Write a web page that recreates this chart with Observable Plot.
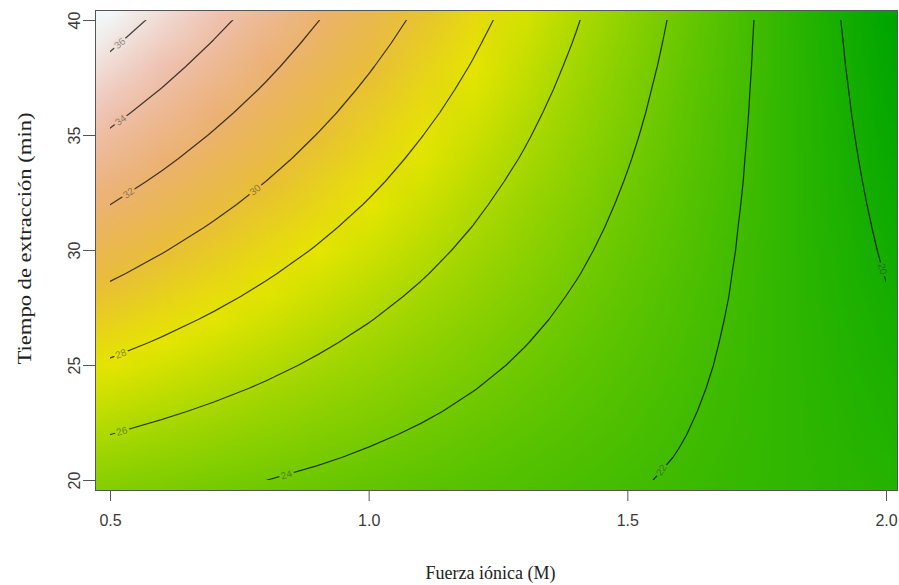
<!DOCTYPE html>
<html>
<head>
<meta charset="utf-8">
<script src="https://cdn.jsdelivr.net/npm/d3@7"></script>
<script src="https://cdn.jsdelivr.net/npm/@observablehq/plot@0.6"></script>
<style>
  body { margin: 0; background: #fff; }
  #chart { position: relative; width: 899px; height: 585px; }
  #chart svg { position: absolute; left: 0; top: 0; }
</style>
</head>
<body>
<div id="chart"></div>
<script>
// Grid columns: ionic strength (M); grid rows: extraction time (min), top row first
const xs = [0.4, 0.5, 0.6, 0.7, 0.8, 0.9, 1.0, 1.1, 1.2, 1.3, 1.4, 1.5, 1.6, 1.7, 1.8, 1.9, 2.0, 2.1];
const ys = [41, 40, 39, 38, 37, 36, 35, 34, 33, 32, 31, 30, 29, 28, 27, 26, 25, 24, 23, 22, 21, 20, 19];

// Response values (one row per time, one value per ionic strength)
const z41 = [38.64, 37.40, 36.16, 34.93, 33.69, 32.46, 31.22, 29.98, 28.75, 27.51, 26.27, 25.04, 23.80, 22.57, 21.33, 20.09, 18.86, 17.62];
const z40 = [37.99, 36.80, 35.61, 34.42, 33.23, 32.04, 30.85, 29.66, 28.47, 27.28, 26.09, 24.90, 23.71, 22.52, 21.33, 20.14, 18.95, 17.76];
const z39 = [37.34, 36.20, 35.06, 33.91, 32.77, 31.62, 30.48, 29.34, 28.19, 27.05, 25.91, 24.76, 23.62, 22.47, 21.33, 20.19, 19.04, 17.90];
const z38 = [36.70, 35.60, 34.50, 33.40, 32.31, 31.21, 30.11, 29.01, 27.92, 26.82, 25.72, 24.62, 23.53, 22.43, 21.33, 20.23, 19.13, 18.04];
const z37 = [36.05, 35.00, 33.95, 32.90, 31.85, 30.79, 29.74, 28.69, 27.64, 26.59, 25.54, 24.48, 23.43, 22.38, 21.33, 20.28, 19.23, 18.18];
const z36 = [35.41, 34.40, 33.39, 32.39, 31.38, 30.38, 29.37, 28.37, 27.36, 26.36, 25.35, 24.35, 23.34, 22.34, 21.33, 20.32, 19.32, 18.31];
const z35 = [34.76, 33.80, 32.84, 31.88, 30.92, 29.96, 29.00, 28.04, 27.09, 26.13, 25.17, 24.21, 23.25, 22.29, 21.33, 20.37, 19.41, 18.45];
const z34 = [34.11, 33.20, 32.29, 31.37, 30.46, 29.55, 28.63, 27.72, 26.81, 25.90, 24.98, 24.07, 23.16, 22.24, 21.33, 20.42, 19.50, 18.59];
const z33 = [33.47, 32.60, 31.73, 30.87, 30.00, 29.13, 28.27, 27.40, 26.53, 25.66, 24.80, 23.93, 23.06, 22.20, 21.33, 20.46, 19.60, 18.73];
const z32 = [32.82, 32.00, 31.18, 30.36, 29.54, 28.72, 27.90, 27.08, 26.25, 25.43, 24.61, 23.79, 22.97, 22.15, 21.33, 20.51, 19.69, 18.87];
const z31 = [32.17, 31.40, 30.63, 29.85, 29.08, 28.30, 27.53, 26.75, 25.98, 25.20, 24.43, 23.65, 22.88, 22.10, 21.33, 20.56, 19.78, 19.01];
const z30 = [31.53, 30.80, 30.07, 29.34, 28.61, 27.89, 27.16, 26.43, 25.70, 24.97, 24.24, 23.52, 22.79, 22.06, 21.33, 20.60, 19.87, 19.14];
const z29 = [30.88, 30.20, 29.52, 28.84, 28.15, 27.47, 26.79, 26.11, 25.42, 24.74, 24.06, 23.38, 22.69, 22.01, 21.33, 20.65, 19.96, 19.28];
const z28 = [30.24, 29.60, 28.96, 28.33, 27.69, 27.06, 26.42, 25.78, 25.15, 24.51, 23.87, 23.24, 22.60, 21.97, 21.33, 20.69, 20.06, 19.42];
const z27 = [29.59, 29.00, 28.41, 27.82, 27.23, 26.64, 26.05, 25.46, 24.87, 24.28, 23.69, 23.10, 22.51, 21.92, 21.33, 20.74, 20.15, 19.56];
const z26 = [28.94, 28.40, 27.86, 27.31, 26.77, 26.22, 25.68, 25.14, 24.59, 24.05, 23.50, 22.96, 22.42, 21.87, 21.33, 20.79, 20.24, 19.70];
const z25 = [28.30, 27.80, 27.30, 26.80, 26.31, 25.81, 25.31, 24.81, 24.32, 23.82, 23.32, 22.82, 22.32, 21.83, 21.33, 20.83, 20.33, 19.84];
const z24 = [27.65, 27.20, 26.75, 26.30, 25.85, 25.39, 24.94, 24.49, 24.04, 23.59, 23.14, 22.68, 22.23, 21.78, 21.33, 20.88, 20.43, 19.97];
const z23 = [27.01, 26.60, 26.19, 25.79, 25.38, 24.98, 24.57, 24.17, 23.76, 23.36, 22.95, 22.55, 22.14, 21.73, 21.33, 20.92, 20.52, 20.11];
const z22 = [26.36, 26.00, 25.64, 25.28, 24.92, 24.56, 24.20, 23.84, 23.48, 23.13, 22.77, 22.41, 22.05, 21.69, 21.33, 20.97, 20.61, 20.25];
const z21 = [25.71, 25.40, 25.09, 24.77, 24.46, 24.15, 23.83, 23.52, 23.21, 22.89, 22.58, 22.27, 21.96, 21.64, 21.33, 21.02, 20.70, 20.39];
const z20 = [25.07, 24.80, 24.53, 24.27, 24.00, 23.73, 23.47, 23.20, 22.93, 22.66, 22.40, 22.13, 21.86, 21.60, 21.33, 21.06, 20.80, 20.53];
const z19 = [24.42, 24.20, 23.98, 23.76, 23.54, 23.32, 23.10, 22.87, 22.65, 22.43, 22.21, 21.99, 21.77, 21.55, 21.33, 21.11, 20.89, 20.67];
const zRows = [z41, z40, z39, z38, z37, z36, z35, z34, z33, z32, z31, z30, z29, z28, z27, z26, z25, z24, z23, z22, z21, z20, z19];

// Contour levels and their inline labels
const contourLevels = [20, 22, 24, 26, 28, 30, 32, 34, 36];
const labelLevels = [36, 34, 32, 30, 28, 26, 24, 22, 20];
const labelX = [0.518, 0.520, 0.535, 0.780, 0.520, 0.522, 0.840, 1.565, 1.992];
const labelY = [39.0, 35.66, 32.49, 32.63, 25.5, 22.13, 20.24, 20.45, 29.2];
const labelAngle = [-41, -37, -35, -39, -21, -15, -18, -55, 74];

// Axis ticks and the data range covered by the model
const xTicks = [0.5, 1.0, 1.5, 2.0];
const yTicks = [20, 25, 30, 35, 40];
const xRange = [0.5, 2.0];
const yRange = [20, 40];
const xTitle = "Fuerza iónica (M)";
const yTitle = "Tiempo de extracción (min)";

// R terrain.colors-like palette (low -> high)
const palette = ["#00A600", "#2DB600", "#63C600", "#A0D600", "#E6E600", "#E9BD3A", "#ECB176", "#EFC2B3", "#F2F2F2"];

// ---- layout (pixels) ----
const W0 = 899, H0 = 585;
const frame = {left: 95, right: 897, top: 10, bottom: 490};   // plot box
const data = {left: 110, right: 886, top: 20, bottom: 480};   // where the data range sits

const values = zRows.flat();
const W = xs.length, H = ys.length;
const stepX = (xs[W - 1] - xs[0]) / (W - 1);
const stepY = (ys[0] - ys[H - 1]) / (H - 1);
const grid = {
  width: W, height: H,
  x1: xs[0] - stepX / 2, x2: xs[W - 1] + stepX / 2,
  y1: ys[0] + stepY / 2, y2: ys[H - 1] - stepY / 2
};
const inner = [];
zRows.forEach((row, j) => row.forEach((v, i) => {
  if (xs[i] >= xRange[0] - 1e-9 && xs[i] <= xRange[1] + 1e-9 && ys[j] >= yRange[0] && ys[j] <= yRange[1]) inner.push(v);
}));
const [zMin, zMax] = d3.extent(inner);
const stops = palette.map((_, i) => zMin + (zMax - zMin) * i / (palette.length - 1));
const labels = labelLevels.map((v, i) => ({level: v, x: labelX[i], y: labelY[i], angle: labelAngle[i]}));

// map the frame box to data units so both layers share one coordinate system
const kx = (xRange[1] - xRange[0]) / (data.right - data.left);
const ky = (yRange[1] - yRange[0]) / (data.bottom - data.top);
const xDomain = [xRange[0] - (data.left - frame.left) * kx, xRange[1] + (frame.right - data.right) * kx];
const yDomain = [yRange[0] - (frame.bottom - data.bottom) * ky, yRange[1] + (data.top - frame.top) * ky];

const colorScale = {type: "linear", domain: stops, range: palette, interpolate: "rgb"};
const sans = "'Liberation Sans', Arial, Helvetica, sans-serif";
const serif = "'Liberation Serif', 'Times New Roman', serif";

const base = Plot.plot({
  width: W0, height: H0,
  marginTop: frame.top, marginRight: W0 - frame.right, marginBottom: H0 - frame.bottom, marginLeft: frame.left,
  style: {background: "#fff", fontFamily: sans},
  x: {domain: xDomain},
  y: {domain: yDomain},
  color: colorScale,
  marks: [
    Plot.raster(values, {...grid, fill: d => d, clip: true}),
    Plot.frame({stroke: "#555"}),
    Plot.axisX({ticks: xTicks, tickFormat: d3.format(".1f"), tickSize: 11, tickPadding: 13,
      fontSize: 16, fill: "#3a3a3a", stroke: "#555", label: null}),
    Plot.axisY({ticks: yTicks, tickFormat: d3.format("d"), tickSize: 12, tickPadding: 4, tickRotate: -90,
      fontSize: 16, fill: "#3a3a3a", stroke: "#555", label: null}),
    Plot.text([xTitle], {frameAnchor: "bottom", dy: 88, dx: -6, text: d => d,
      textAnchor: "middle", fontFamily: serif, fontSize: 18, fill: "#222"}),
    Plot.text([yTitle], {frameAnchor: "left", dx: -70, dy: -12, rotate: -90,
      textAnchor: "middle", text: d => d, fontFamily: serif, fontSize: 18, fill: "#222"})
  ]
});

// the vertical title is drawn stretched along its length in the original
d3.select(base).selectAll("text")
  .filter(function () { return this.textContent === yTitle; })
  .attr("textLength", 252)
  .attr("lengthAdjust", "spacingAndGlyphs");

const overlay = Plot.plot({
  width: W0, height: H0,
  marginTop: data.top, marginRight: W0 - data.right, marginBottom: H0 - data.bottom, marginLeft: data.left,
  style: {background: "transparent", fontFamily: sans},
  x: {domain: xRange, axis: null},
  y: {domain: yRange, axis: null},
  color: colorScale,
  marks: [
    Plot.contour(values, {...grid, value: d => d, thresholds: contourLevels, fill: "none",
      stroke: "#000", strokeOpacity: 0.72, strokeWidth: 1.25, clip: true}),
    Plot.text(labels, {x: "x", y: "y", text: d => String(d.level), rotate: "angle",
      fontSize: 10, fill: "#333", fillOpacity: 0.55, stroke: "level", strokeWidth: 5,
      paintOrder: "stroke"})
  ]
});

const host = document.getElementById("chart");
host.appendChild(base);
host.appendChild(overlay);
</script>
</body>
</html>
